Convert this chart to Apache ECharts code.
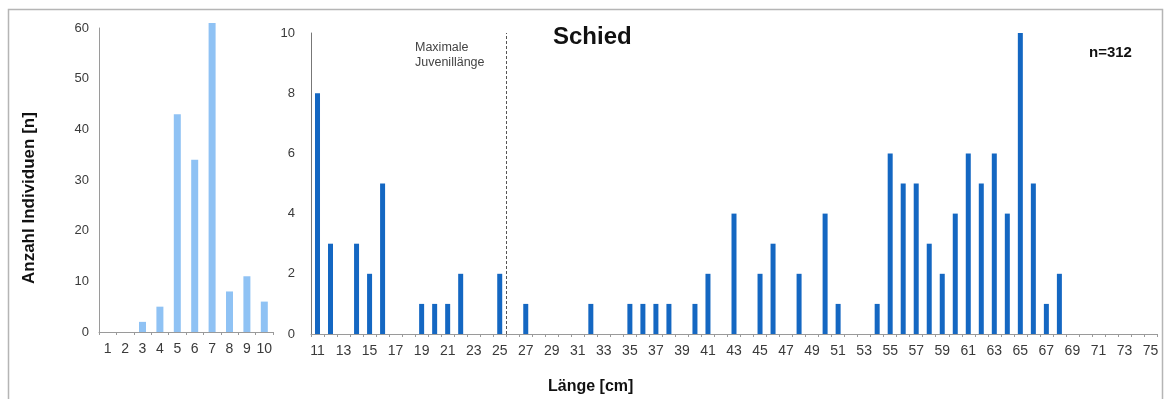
<!DOCTYPE html>
<html>
<head>
<meta charset="utf-8">
<script src="https://cdn.jsdelivr.net/npm/echarts@6/dist/echarts.min.js"></script>
<style>
  html, body { margin: 0; padding: 0; background: #fff; }
  #chart { width: 1166px; height: 399px; }
</style>
</head>
<body>
<div id="chart"></div>
<script>
// Age classes (years) and number of fish per age class
const ageClasses = ['1', '2', '3', '4', '5', '6', '7', '8', '9', '10'];
const ageCounts = [0, 0, 2, 5, 43, 34, 61, 8, 11, 6];

// Length classes 11..75 cm and number of fish per length class
const lengthClasses = [
  '11','12','13','14','15','16','17','18','19','20',
  '21','22','23','24','25','26','27','28','29','30',
  '31','32','33','34','35','36','37','38','39','40',
  '41','42','43','44','45','46','47','48','49','50',
  '51','52','53','54','55','56','57','58','59','60',
  '61','62','63','64','65','66','67','68','69','70',
  '71','72','73','74','75'
];
const lengthCounts = [
  8, 3, 0, 3, 2, 5, 0, 0, 1, 1,
  1, 2, 0, 0, 2, 0, 1, 0, 0, 0,
  0, 1, 0, 0, 1, 1, 1, 1, 0, 1,
  2, 0, 4, 0, 2, 3, 0, 2, 0, 4,
  1, 0, 0, 1, 6, 5, 5, 3, 2, 4,
  6, 5, 6, 4, 10, 5, 1, 2, 0, 0,
  0, 0, 0, 0, 0
];

// Maximum juvenile length marker (boundary between 25 and 26 cm)
const juvenileLimit = 25.5;

const fontFamily = 'Liberation Sans, Arial, sans-serif';
const axisGray = '#9a9a9a';
const labelStyle = { color: '#3a3a3a', fontSize: 13, fontFamily: fontFamily };

const chart = echarts.init(document.getElementById('chart'), null, { renderer: 'canvas' });

chart.setOption({
  backgroundColor: '#fff',
  animation: false,
  graphic: [
    {
      type: 'rect',
      shape: { x: 8.5, y: 9.5, width: 1154, height: 420 },
      style: { fill: 'none', stroke: '#b5b5b5', lineWidth: 1.5 },
      silent: true
    },
    {
      type: 'text',
      left: 553, top: 25,
      style: { text: 'Schied', fontSize: 24, fontWeight: 'bold', fill: '#111', fontFamily: fontFamily }
    },
    {
      type: 'text',
      left: 1089, top: 45,
      style: { text: 'n=312', fontSize: 15, fontWeight: 'bold', fill: '#111', fontFamily: fontFamily }
    },
    {
      type: 'text',
      left: 415, top: 40,
      style: { text: 'Maximale\nJuvenillänge', fontSize: 12.5, lineHeight: 15, fill: '#444', fontFamily: fontFamily }
    },
    {
      type: 'text',
      left: 548, top: 379,
      style: { text: 'Länge [cm]', fontSize: 16, fontWeight: 'bold', fill: '#111', fontFamily: fontFamily }
    },
    {
      type: 'text',
      x: 21, y: 284,
      rotation: Math.PI / 2,
      style: { text: 'Anzahl Individuen [n]', fontSize: 17, fontWeight: 'bold', fill: '#111', fontFamily: fontFamily }
    }
  ],
  grid: [
    { left: 99, top: 28, width: 174, height: 304 },
    { left: 311, top: 33, width: 846, height: 301 }
  ],
  xAxis: [
    {
      type: 'category', gridIndex: 0, data: ageClasses,
      axisLine: { lineStyle: { color: axisGray } },
      axisTick: { show: true, interval: 0, length: 3, lineStyle: { color: axisGray } },
      axisLabel: Object.assign({ interval: 0, margin: 10 }, labelStyle, { fontSize: 14 })
    },
    {
      type: 'category', gridIndex: 1, data: lengthClasses,
      axisLine: { lineStyle: { color: axisGray } },
      axisTick: { show: true, interval: 0, length: 3, lineStyle: { color: axisGray } },
      axisLabel: Object.assign({ interval: 1, margin: 10 }, labelStyle, { fontSize: 14 })
    },
    {
      // hidden value axis used to place the juvenile-length marker between categories
      type: 'value', gridIndex: 1, min: 10.5, max: 75.5, show: false
    }
  ],
  yAxis: [
    {
      type: 'value', gridIndex: 0, min: 0, max: 60, interval: 10,
      axisLine: { show: true, lineStyle: { color: axisGray } },
      axisTick: { show: false },
      splitLine: { show: false },
      axisLabel: Object.assign({ margin: 10 }, labelStyle)
    },
    {
      type: 'value', gridIndex: 1, min: 0, max: 10, interval: 2,
      axisLine: { show: true, lineStyle: { color: '#777' } },
      axisTick: { show: false },
      splitLine: { show: false },
      axisLabel: Object.assign({ margin: 16 }, labelStyle)
    }
  ],
  series: [
    {
      type: 'bar', xAxisIndex: 0, yAxisIndex: 0,
      data: ageCounts, barWidth: 7, clip: false,
      itemStyle: { color: '#8fc2f4' }
    },
    {
      type: 'bar', xAxisIndex: 1, yAxisIndex: 1,
      data: lengthCounts, barWidth: 5,
      itemStyle: { color: '#1467c2' }
    },
    {
      type: 'line', xAxisIndex: 2, yAxisIndex: 1,
      data: [],
      markLine: {
        silent: true, symbol: 'none', label: { show: false },
        lineStyle: { color: '#555', type: [3, 2], width: 1 },
        data: [[{ coord: [juvenileLimit, 0] }, { coord: [juvenileLimit, 10] }]]
      }
    }
  ]
});
</script>
</body>
</html>
